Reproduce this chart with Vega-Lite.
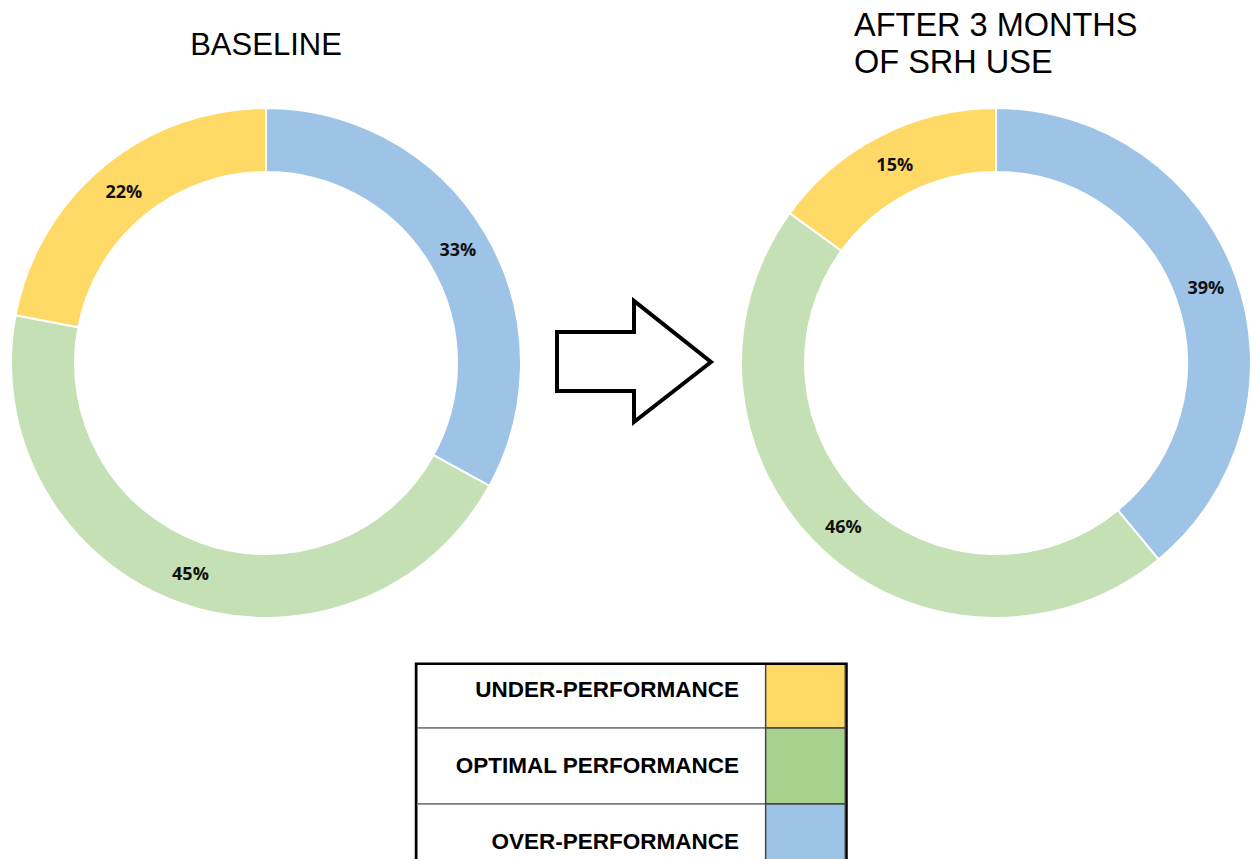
{
  "$schema": "https://vega.github.io/schema/vega-lite/v6.json",
  "padding": {"left": 7, "top": 9, "right": 3, "bottom": 0},
  "background": "white",
  "config": {
    "view": {"stroke": null},
    "concat": {"spacing": 0},
    "title": {"font": "Liberation Sans", "fontWeight": "normal", "fontSize": 31, "color": "black"}
  },
  "datasets": {
    "donuts": [
      {"chart": "Baseline", "cat": "Over-performance", "share": 0.33, "ord": 1},
      {"chart": "Baseline", "cat": "Optimal performance", "share": 0.45, "ord": 2},
      {"chart": "Baseline", "cat": "Under-performance", "share": 0.22, "ord": 3},
      {"chart": "After", "cat": "Over-performance", "share": 0.39, "ord": 1},
      {"chart": "After", "cat": "Optimal performance", "share": 0.46, "ord": 2},
      {"chart": "After", "cat": "Under-performance", "share": 0.15, "ord": 3}
    ],
    "arrow": [
      {"i": 0, "ax": 35, "ay": 225},
      {"i": 1, "ax": 112, "ay": 225},
      {"i": 2, "ax": 112, "ay": 194},
      {"i": 3, "ax": 189, "ay": 255},
      {"i": 4, "ax": 112, "ay": 315},
      {"i": 5, "ax": 112, "ay": 284},
      {"i": 6, "ax": 35, "ay": 284},
      {"i": 7, "ax": 35, "ay": 225}
    ],
    "legend": [
      {"label": "UNDER-PERFORMANCE", "key": "u"},
      {"label": "OPTIMAL PERFORMANCE", "key": "o"},
      {"label": "OVER-PERFORMANCE", "key": "v"}
    ]
  },
  "vconcat": [
    {
      "hconcat": [
        {
          "width": 512,
          "height": 512,
          "title": {"text": "BASELINE", "anchor": "middle", "baseline": "alphabetic", "offset": 18},
          "data": {"name": "donuts"},
          "transform": [{"filter": "datum.chart === 'Baseline'"}],
          "encoding": {
            "theta": {"field": "share", "type": "quantitative", "stack": true},
            "order": {"field": "ord", "type": "quantitative"}
          },
          "layer": [
            {
              "mark": {"type": "arc", "radius": 255, "radius2": 191, "stroke": "white", "strokeWidth": 2},
              "encoding": {
                "color": {"field": "cat", "type": "nominal", "legend": null,
                  "scale": {"domain": ["Under-performance", "Optimal performance", "Over-performance"], "range": ["#FFD966", "#C5E0B4", "#9DC3E6"]}}
              }
            },
            {
              "mark": {"type": "text", "radius": 223, "font": "Open Sans", "fontWeight": "bold", "fontSize": 18, "color": "#111", "baseline": "middle", "dy": 2},
              "encoding": {"text": {"field": "share", "type": "quantitative", "format": ".0%"}}
            }
          ]
        },
        {
          "width": 218,
          "height": 512,
          "data": {"name": "arrow"},
          "mark": {"type": "line", "color": "black", "strokeWidth": 4, "strokeJoin": "miter", "strokeCap": "square"},
          "encoding": {
            "x": {"field": "ax", "type": "quantitative", "axis": null, "scale": {"domain": [0, 218], "zero": false, "nice": false}},
            "y": {"field": "ay", "type": "quantitative", "axis": null, "scale": {"domain": [0, 512], "reverse": true, "nice": false}},
            "order": {"field": "i", "type": "quantitative"}
          }
        },
        {
          "width": 512,
          "height": 512,
          "title": {"text": ["AFTER 3 MONTHS", "OF SRH USE"], "anchor": "start", "dx": 117, "baseline": "alphabetic", "lineHeight": 37, "offset": -1, "fontSize": 32.5},
          "data": {"name": "donuts"},
          "transform": [{"filter": "datum.chart === 'After'"}],
          "encoding": {
            "theta": {"field": "share", "type": "quantitative", "stack": true},
            "order": {"field": "ord", "type": "quantitative"}
          },
          "layer": [
            {
              "mark": {"type": "arc", "radius": 255, "radius2": 191, "stroke": "white", "strokeWidth": 2},
              "encoding": {
                "color": {"field": "cat", "type": "nominal", "legend": null,
                  "scale": {"domain": ["Under-performance", "Optimal performance", "Over-performance"], "range": ["#FFD966", "#C5E0B4", "#9DC3E6"]}}
              }
            },
            {
              "mark": {"type": "text", "radius": 223, "font": "Open Sans", "fontWeight": "bold", "fontSize": 18, "color": "#111", "baseline": "middle", "dy": 2},
              "encoding": {"text": {"field": "share", "type": "quantitative", "format": ".0%"}}
            }
          ]
        }
      ],
      "bounds": "flush"
    },
    {
      "width": 428,
      "height": 215,
      "view": {"stroke": "black", "strokeWidth": 5},
      "data": {"name": "legend"},
      "encoding": {
        "y": {"field": "label", "type": "nominal", "axis": null, "sort": null,
          "scale": {"type": "band", "range": [-13, 215], "paddingInner": 0, "paddingOuter": 0}}
      },
      "layer": [
        {
          "mark": {"type": "rect", "fill": "white", "stroke": "#777", "strokeWidth": 1.5, "clip": true},
          "encoding": {
            "x": {"datum": 0, "type": "quantitative", "axis": null, "scale": {"domain": [0, 1], "nice": false}},
            "x2": {"datum": 1}
          }
        },
        {
          "mark": {"type": "rect", "stroke": "#444", "strokeWidth": 1.5, "clip": true},
          "encoding": {
            "x": {"datum": 0.814, "type": "quantitative"},
            "x2": {"datum": 1},
            "color": {"field": "key", "type": "nominal", "legend": null,
              "scale": {"domain": ["u", "o", "v"], "range": ["#FFD966", "#A9D18E", "#9DC3E6"]}}
          }
        },
        {
          "mark": {"type": "text", "align": "right", "baseline": "middle", "font": "Liberation Sans", "fontWeight": "bold", "fontSize": 22.5, "color": "black", "clip": true},
          "encoding": {
            "x": {"datum": 0.752, "type": "quantitative"},
            "text": {"field": "label"}
          }
        }
      ]
    }
  ],
  "spacing": 40,
  "center": true,
  "resolve": {"scale": {"color": "independent"}}
}
